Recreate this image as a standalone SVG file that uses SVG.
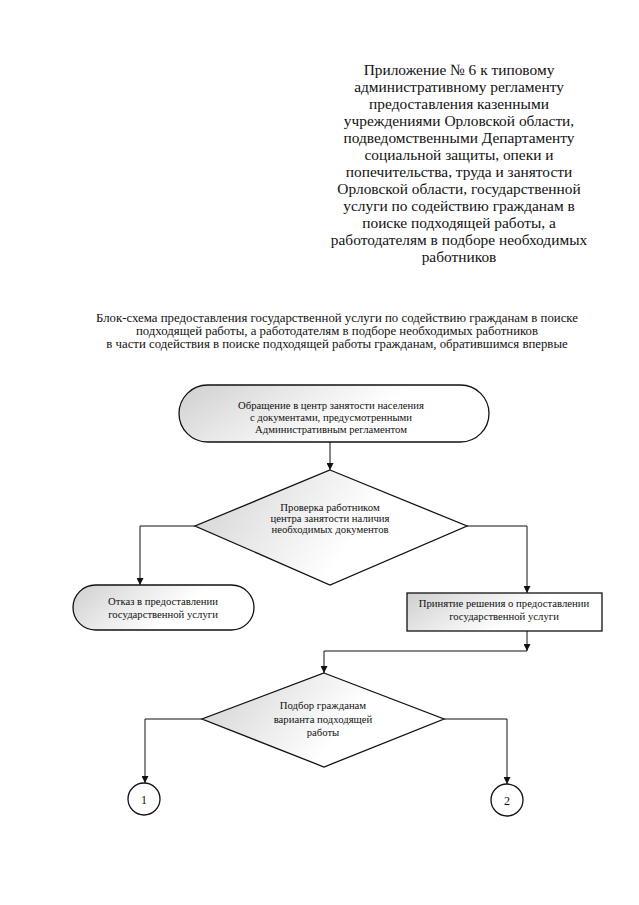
<svg xmlns="http://www.w3.org/2000/svg" width="639" height="905" viewBox="0 0 639 905">
<style>
text{font-family:"Liberation Serif","Times New Roman","DejaVu Serif",serif;fill:#111;text-anchor:middle}
.hdr{font-size:15.4px}
.ttl{font-size:12.8px}
.lbl{font-size:10.7px}
.num{font-size:12px}
.shape{stroke:#111;stroke-width:1.3}
.conn{fill:none;stroke:#111;stroke-width:1}
</style>
<defs>
<linearGradient id="shade" x1="0" y1="0" x2="1" y2="0.3">
<stop offset="0" stop-color="#cfcfcf"/>
<stop offset="0.35" stop-color="#e8e8e8"/>
<stop offset="0.7" stop-color="#ffffff"/>
</linearGradient>
<marker id="arr" viewBox="0 0 10 10" refX="10" refY="5" markerWidth="7" markerHeight="7" markerUnits="userSpaceOnUse" orient="auto">
<path d="M0,0 L10,5 L0,10 z" fill="#111"/>
</marker>
</defs>
<rect width="639" height="905" fill="#fff"/>
<g id="header">
<text class="hdr" x="459" y="75">Приложение № 6 к типовому</text>
<text class="hdr" x="459" y="92">административному регламенту</text>
<text class="hdr" x="459" y="109">предоставления казенными</text>
<text class="hdr" x="459" y="126">учреждениями Орловской области,</text>
<text class="hdr" x="459" y="143">подведомственными Департаменту</text>
<text class="hdr" x="459" y="160">социальной защиты, опеки и</text>
<text class="hdr" x="459" y="177">попечительства, труда и занятости</text>
<text class="hdr" x="459" y="194">Орловской области, государственной</text>
<text class="hdr" x="459" y="211">услуги по содействию гражданам в</text>
<text class="hdr" x="459" y="228">поиске подходящей работы, а</text>
<text class="hdr" x="459" y="245">работодателям в подборе необходимых</text>
<text class="hdr" x="459" y="262">работников</text>
</g>
<g id="title">
<text class="ttl" x="337" y="322">Блок-схема предоставления государственной услуги по содействию гражданам в поиске</text>
<text class="ttl" x="337" y="335">подходящей работы, а работодателям в подборе необходимых работников</text>
<text class="ttl" x="337" y="348">в части содействия в поиске подходящей работы гражданам, обратившимся впервые</text>
</g>
<g id="connectors">
<path class="conn" d="M330,442 V470" marker-end="url(#arr)"/>
<path class="conn" d="M195,526 H140 V585" marker-end="url(#arr)"/>
<path class="conn" d="M467,526 H527 V593" marker-end="url(#arr)"/>
<path class="conn" d="M527,631 V651" marker-end="url(#arr)"/>
<path class="conn" d="M527,651 H324 V673" marker-end="url(#arr)"/>
<path class="conn" d="M202,719 H145 V783" marker-end="url(#arr)"/>
<path class="conn" d="M444,719 H507 V784" marker-end="url(#arr)"/>
</g>
<g id="start">
<rect class="shape" x="179" y="385" width="310" height="57" rx="28.5" ry="28.5" fill="url(#shade)"/>
<text class="lbl" x="331" y="409">Обращение в центр занятости населения</text>
<text class="lbl" x="331" y="421">с документами, предусмотренными</text>
<text class="lbl" x="331" y="433">Административным регламентом</text>
</g>
<g id="check">
<polygon class="shape" points="330,470 467,526 330,585 195,526" fill="url(#shade)"/>
<text class="lbl" x="330" y="511">Проверка работником</text>
<text class="lbl" x="330" y="522">центра занятости наличия</text>
<text class="lbl" x="330" y="533">необходимых документов</text>
</g>
<g id="refuse">
<rect class="shape" x="73" y="585" width="181" height="45" rx="22.5" ry="22.5" fill="url(#shade)"/>
<text class="lbl" x="163" y="605">Отказ в предоставлении</text>
<text class="lbl" x="163" y="618">государственной услуги</text>
</g>
<g id="accept">
<rect class="shape" x="407" y="593" width="195" height="38" fill="url(#shade)"/>
<text class="lbl" x="504" y="607">Принятие решения о предоставлении</text>
<text class="lbl" x="504" y="620">государственной услуги</text>
</g>
<g id="select">
<polygon class="shape" points="324,673 444,719 324,767 202,719" fill="url(#shade)"/>
<text class="lbl" x="323" y="709">Подбор гражданам</text>
<text class="lbl" x="323" y="723">варианта подходящей</text>
<text class="lbl" x="323" y="736">работы</text>
</g>
<g id="c1">
<circle class="shape" cx="144" cy="799" r="16" fill="#fff"/>
<text class="num" x="144" y="803.5">1</text>
</g>
<g id="c2">
<circle class="shape" cx="507" cy="800" r="16" fill="#fff"/>
<text class="num" x="507" y="804.5">2</text>
</g>
</svg>
